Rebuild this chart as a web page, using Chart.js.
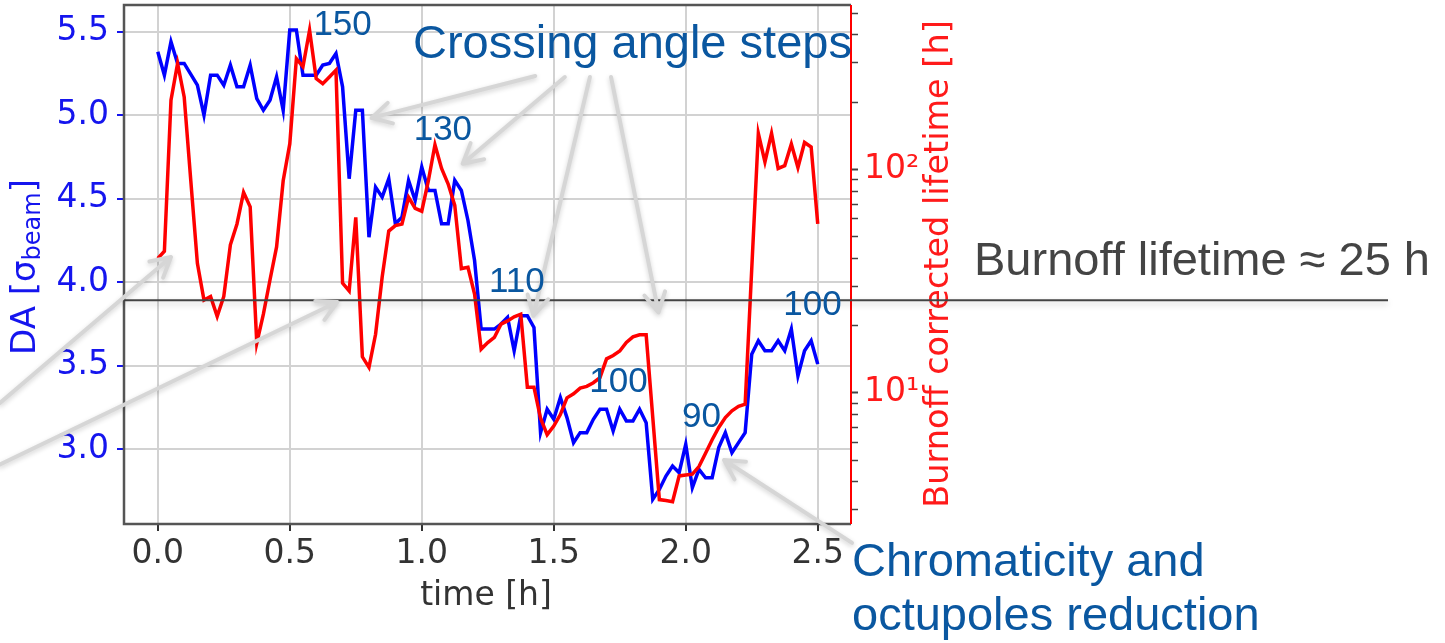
<!DOCTYPE html>
<html>
<head>
<meta charset="utf-8">
<script src="https://cdn.jsdelivr.net/npm/chart.js@4.4.1/dist/chart.umd.min.js"></script>
<style>
  html, body { margin: 0; padding: 0; background: #fff; }
  #wrap { width: 1445px; height: 643px; }
</style>
</head>
<body>
<div id="wrap"><canvas id="daChart" width="1445" height="643"></canvas></div>
<script>
// ===== Data =====
// DA (blue, left axis) vs time [h]
const timeBlue = [0, 0.025, 0.05, 0.075, 0.1, 0.15, 0.175, 0.2, 0.225, 0.25, 0.275, 0.3, 0.325, 0.35, 0.375,
  0.4, 0.425, 0.45, 0.475, 0.5, 0.525, 0.55, 0.575, 0.6, 0.625, 0.65, 0.675, 0.7, 0.725, 0.75, 0.775,
  0.8, 0.825, 0.85, 0.875, 0.9, 0.925, 0.95, 0.975, 1.0, 1.025, 1.05, 1.075, 1.1, 1.125, 1.15, 1.175,
  1.2, 1.225, 1.25, 1.275, 1.3, 1.325, 1.35, 1.375, 1.4, 1.425, 1.45, 1.475, 1.5, 1.525, 1.55, 1.575,
  1.6, 1.625, 1.65, 1.675, 1.7, 1.725, 1.75, 1.775, 1.8, 1.825, 1.85, 1.875, 1.9, 1.925, 1.95, 1.975,
  2.0, 2.025, 2.05, 2.075, 2.1, 2.125, 2.15, 2.175, 2.2, 2.225, 2.25, 2.275, 2.3, 2.325, 2.35, 2.375,
  2.4, 2.425, 2.45, 2.475, 2.5]
const daBlue = [5.38, 5.24, 5.44, 5.31, 5.31, 5.18, 5.00, 5.24, 5.24, 5.18, 5.30, 5.17, 5.17, 5.30, 5.10,
  5.03, 5.09, 5.23, 5.03, 5.51, 5.51, 5.24, 5.24, 5.24, 5.30, 5.31, 5.37, 5.17, 4.62, 5.03, 5.03,
  4.27, 4.57, 4.51, 4.62, 4.35, 4.39, 4.61, 4.49, 4.69, 4.55, 4.55, 4.35, 4.35, 4.61, 4.55, 4.37,
  4.13, 3.72, 3.72, 3.72, 3.75, 3.79, 3.59, 3.80, 3.80, 3.73, 3.10, 3.24, 3.18, 3.31, 3.19, 3.04,
  3.10, 3.10, 3.18, 3.24, 3.24, 3.11, 3.24, 3.17, 3.17, 3.24, 3.16, 2.70, 2.76, 2.84, 2.90, 2.86,
  3.03, 2.77, 2.88, 2.83, 2.83, 3.01, 3.10, 2.98, 3.04, 3.10, 3.57, 3.65, 3.59, 3.59, 3.65, 3.59,
  3.72, 3.44, 3.59, 3.65, 3.51]

// Burnoff corrected lifetime [h] (red, right log axis)
const timeRed = [0, 0.025, 0.05, 0.075, 0.1, 0.125, 0.15, 0.175, 0.2, 0.225, 0.25, 0.275, 0.3, 0.325, 0.35,
  0.375, 0.4, 0.425, 0.45, 0.475, 0.5, 0.525, 0.55, 0.575, 0.6, 0.625, 0.65, 0.675, 0.7, 0.725, 0.75,
  0.775, 0.8, 0.825, 0.85, 0.875, 0.9, 0.925, 0.95, 0.975, 1.0, 1.025, 1.05, 1.075, 1.1, 1.125, 1.15,
  1.175, 1.2, 1.225, 1.25, 1.275, 1.3, 1.325, 1.35, 1.375, 1.4, 1.425, 1.45, 1.475, 1.5, 1.525, 1.55,
  1.575, 1.6, 1.625, 1.65, 1.675, 1.7, 1.725, 1.75, 1.775, 1.8, 1.825, 1.85, 1.9, 1.925, 1.95, 1.975,
  2.0, 2.025, 2.05, 2.075, 2.1, 2.125, 2.15, 2.175, 2.2, 2.225, 2.275, 2.3, 2.325, 2.35, 2.375, 2.4,
  2.425, 2.45, 2.475, 2.5]
const lifeRed = [40, 43, 204, 298, 211, 89, 38, 26, 27, 22, 27, 46, 57, 79, 68,
  16.7, 22.5, 32, 45, 89, 130, 313, 288, 420, 255, 242, 259, 278, 31, 28.6, 61,
  14.5, 13.0, 18.3, 33, 53, 56, 57, 75, 67, 65, 89, 129, 101, 86, 69, 36,
  36.5, 27.7, 15.7, 16.8, 17.7, 20.3, 21.0, 21.9, 22.5, 10.6, 10.6, 7.7, 6.5, 7.1, 8.0, 9.5,
  9.9, 10.5, 10.7, 11.1, 11.7, 14.2, 14.7, 15.4, 16.8, 17.8, 18.2, 18.2, 3.33, 3.30, 3.26, 4.25,
  4.29, 4.33, 4.68, 5.37, 6.17, 7.0, 7.76, 8.32, 8.71, 8.89, 145, 108, 145, 101, 104, 130,
  102, 132, 126, 57]

// axes
const xTicks = [0.0, 0.5, 1.0, 1.5, 2.0, 2.5]
const daTicks = [3.0, 3.5, 4.0, 4.5, 5.0, 5.5]
const lifeTicks = [3, 4, 5, 6, 7, 8, 9, 10, 20, 30, 40, 50, 60, 70, 80, 90, 100, 200, 300, 400, 500]
const burnoffLife = 26 // h, horizontal reference line

// crossing angle values written along the curve: [text, time, DA]
const stepLabels = [['150', 0.70, 5.54], ['130', 1.08, 4.91], ['110', 1.36, 4.00],
  ['100', 1.745, 3.40], ['90', 2.06, 3.19], ['100', 2.48, 3.86]]
// grey arrows: [fromTime, fromDA, toTime, toDA]
const arrows = [[1.43, 5.235, 0.81, 4.984], [1.542, 5.229, 1.155, 4.71], [1.637, 5.229, 1.423, 3.80],
  [1.717, 5.229, 1.897, 3.82], [-0.598, 3.277, 0.05, 4.151], [-0.598, 2.909, 0.68, 3.882],
  [2.63, 2.44, 2.145, 2.936]]

const FONT = "'DejaVu Sans', sans-serif"
const SLIDE_FONT = "'Liberation Sans', Arial, sans-serif"
const SLIDE_BLUE = '#0a57a0'

function drawArrow(ctx, x0, y0, x1, y1) {
  const ang = Math.atan2(y1 - y0, x1 - x0)
  const head = 22
  ctx.beginPath()
  ctx.moveTo(x0, y0)
  ctx.lineTo(x1, y1)
  ctx.moveTo(x1 - head * Math.cos(ang - 0.5), y1 - head * Math.sin(ang - 0.5))
  ctx.lineTo(x1, y1)
  ctx.lineTo(x1 - head * Math.cos(ang + 0.5), y1 - head * Math.sin(ang + 0.5))
  ctx.stroke()
}

// no extra room for half tick labels: chart area is fixed
function fixSize(prop, size) {
  return s => {
    s[prop] = size
    s.paddingTop = 0
    s.paddingBottom = 0
    s.paddingLeft = 0
    s.paddingRight = 0
  }
}

const decorations = {
  id: 'decorations',
  afterDraw(chart) {
    const { ctx, chartArea: a, scales } = chart
    const px = t => scales.x.getPixelForValue(t)
    const py = v => scales.y.getPixelForValue(v)
    ctx.save()

    // frame
    ctx.lineWidth = 2.5
    ctx.strokeStyle = '#555'
    ctx.beginPath()
    ctx.moveTo(a.right, a.top)
    ctx.lineTo(a.left, a.top)
    ctx.lineTo(a.left, a.bottom)
    ctx.lineTo(a.right, a.bottom)
    ctx.stroke()
    ctx.strokeStyle = '#ff0000'
    ctx.lineWidth = 2
    ctx.beginPath()
    ctx.moveTo(a.right, a.top)
    ctx.lineTo(a.right, a.bottom)
    ctx.stroke()

    // axis titles
    ctx.fillStyle = '#333'
    ctx.font = '33px ' + FONT
    ctx.textAlign = 'center'
    ctx.textBaseline = 'middle'
    ctx.fillText('time [h]', 486, 596)

    // left title DA [σ_beam]
    ctx.save()
    ctx.translate(26, 267)
    ctx.rotate(-Math.PI / 2)
    ctx.fillStyle = '#1515ee'
    ctx.textAlign = 'left'
    const big = '34px ' + FONT, small = '24px ' + FONT
    ctx.font = big
    const w1 = ctx.measureText('DA [σ').width
    const w3 = ctx.measureText(']').width
    ctx.font = small
    const w2 = ctx.measureText('beam').width
    const cx = -(w1 + w2 + w3) / 2
    ctx.font = big
    ctx.fillText('DA [σ', cx, 0)
    ctx.font = small
    ctx.fillText('beam', cx + w1, 8)
    ctx.font = big
    ctx.fillText(']', cx + w1 + w2, 0)
    ctx.restore()

    // right title
    ctx.save()
    ctx.translate(939, 264)
    ctx.rotate(-Math.PI / 2)
    ctx.fillStyle = '#ff1a1a'
    ctx.font = '33.5px ' + FONT
    ctx.textAlign = 'center'
    ctx.fillText('Burnoff corrected lifetime [h]', 0, 0)
    ctx.restore()

    // burnoff lifetime line
    const yb = scales.y2.getPixelForValue(burnoffLife)
    ctx.save()
    ctx.shadowColor = 'rgba(0,0,0,0.22)'
    ctx.shadowBlur = 6
    ctx.shadowOffsetY = 3
    ctx.strokeStyle = '#444'
    ctx.lineWidth = 2
    ctx.beginPath()
    ctx.moveTo(a.left, yb)
    ctx.lineTo(1388, yb)
    ctx.stroke()
    ctx.restore()

    // grey arrows
    ctx.save()
    ctx.shadowColor = 'rgba(0,0,0,0.18)'
    ctx.shadowBlur = 5
    ctx.shadowOffsetY = 2
    ctx.strokeStyle = '#d6d6d6'
    ctx.lineWidth = 4
    ctx.lineCap = 'round'
    ctx.lineJoin = 'round'
    arrows.forEach(([t0, v0, t1, v1]) => drawArrow(ctx, px(t0), py(v0), px(t1), py(v1)))
    ctx.restore()

    // slide texts
    ctx.fillStyle = SLIDE_BLUE
    ctx.textAlign = 'center'
    ctx.font = '35px ' + SLIDE_FONT
    stepLabels.forEach(([txt, t, v]) => ctx.fillText(txt, px(t), py(v)))

    ctx.textAlign = 'left'
    ctx.font = '47px ' + SLIDE_FONT
    ctx.fillText('Crossing angle steps', 413, 45)
    ctx.fillText('Chromaticity and', 852, 563)
    ctx.fillText('octupoles reduction', 852, 617)
    ctx.fillStyle = '#444'
    ctx.fillText('Burnoff lifetime ≈ 25 h', 974, 262)

    ctx.restore()
  }
}

const chart = new Chart(document.getElementById('daChart'), {
  type: 'line',
  data: {
    datasets: [
      {
        label: 'lifetime',
        data: timeRed.map((t, i) => ({ x: t, y: lifeRed[i] })),
        yAxisID: 'y2',
        borderColor: '#ff0000',
        borderWidth: 3.5,
        pointRadius: 0,
        tension: 0
      },
      {
        label: 'DA',
        data: timeBlue.map((t, i) => ({ x: t, y: daBlue[i] })),
        yAxisID: 'y',
        borderColor: '#0000ff',
        borderWidth: 3.5,
        pointRadius: 0,
        tension: 0
      }
    ]
  },
  options: {
    responsive: false,
    devicePixelRatio: 1,
    animation: false,
    layout: { padding: { top: 5, left: 0, right: 0, bottom: 0 } },
    plugins: { legend: { display: false }, tooltip: { enabled: false } },
    scales: {
      x: {
        type: 'linear',
        min: -0.128,
        max: 2.626,
        afterFit: fixSize('height', 119),
        afterBuildTicks: s => { s.ticks = xTicks.map(v => ({ value: v })) },
        ticks: {
          font: { family: FONT, size: 33 },
          color: '#333',
          padding: 4,
          maxRotation: 0,
          autoSkip: false,
          callback: v => v.toFixed(1)
        },
        grid: { color: '#d2d2d2', lineWidth: 2, tickColor: '#333', tickLength: 7, tickWidth: 2 },
        border: { display: false }
      },
      y: {
        type: 'linear',
        position: 'left',
        min: 2.553,
        max: 5.66,
        afterFit: fixSize('width', 124),
        afterBuildTicks: s => { s.ticks = daTicks.map(v => ({ value: v })) },
        ticks: {
          font: { family: FONT, size: 33 },
          color: '#1515ee',
          padding: 8,
          autoSkip: false,
          callback: v => v.toFixed(1)
        },
        grid: { color: '#d2d2d2', lineWidth: 2, tickColor: '#1515ee', tickLength: 7, tickWidth: 2 },
        border: { display: false }
      },
      y2: {
        type: 'logarithmic',
        position: 'right',
        min: 2.59,
        max: 544,
        afterFit: fixSize('width', 594),
        afterBuildTicks: s => { s.ticks = lifeTicks.map(v => ({ value: v })) },
        ticks: {
          font: { family: FONT, size: 33 },
          color: '#ff1a1a',
          padding: 6,
          autoSkip: false,
          callback: v => (v === 10 ? '10¹' : v === 100 ? '10²' : '')
        },
        grid: {
          drawOnChartArea: false,
          tickColor: '#444',
          tickLength: 7,
          tickWidth: ctx => (ctx.tick && (ctx.tick.value === 10 || ctx.tick.value === 100) ? 2 : 1.5)
        },
        border: { display: false }
      }
    }
  },
  plugins: [decorations]
})
</script>
</body>
</html>
